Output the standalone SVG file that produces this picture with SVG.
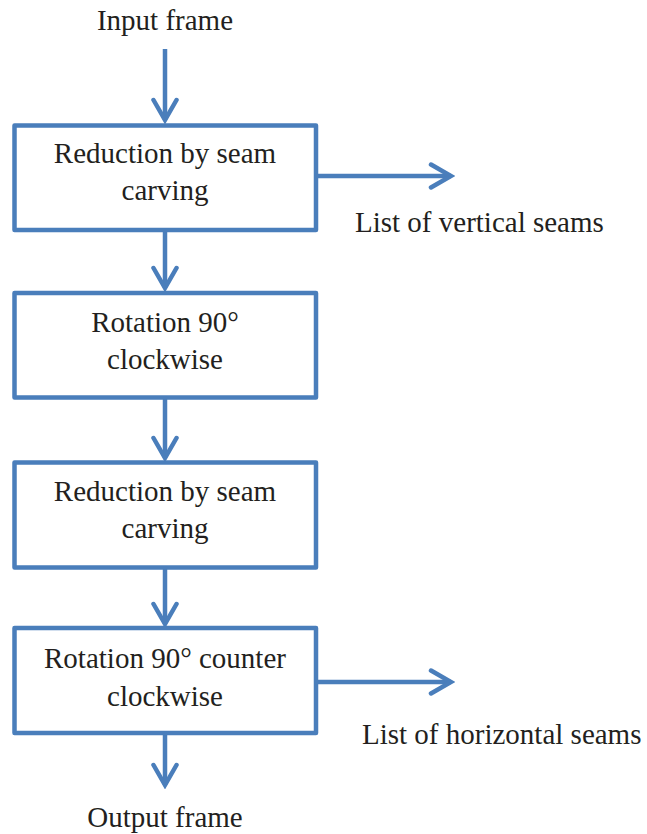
<svg xmlns="http://www.w3.org/2000/svg" width="647" height="834" viewBox="0 0 647 834">
  <style>
    .box { fill: #ffffff; stroke: #4A7EBB; stroke-width: 4.5; stroke-linejoin: round; }
    .edge { fill: none; stroke: #4A7EBB; stroke-width: 4.5; }
    .head { fill: none; stroke: #4A7EBB; stroke-width: 4.5; stroke-linecap: round; stroke-linejoin: miter; }
    text { font-family: "Liberation Serif", "Times New Roman", "DejaVu Serif", serif; font-size: 29px; fill: #231F20; }
    .c { text-anchor: middle; }
  </style>
  <defs>
    <!-- open chevron arrowhead shared by all connectors -->
    <marker id="chev" markerUnits="userSpaceOnUse" viewBox="-24 -14 28 28" refX="0" refY="0" markerWidth="28" markerHeight="28" orient="auto">
      <path class="head" d="M-20,-11.5 L0,0 L-20,11.5"/>
    </marker>
  </defs>

  <text class="c" x="165" y="30">Input frame</text>

  <g id="connectors">
    <line class="edge" x1="165" y1="49" x2="165" y2="120" marker-end="url(#chev)"/>
    <line class="edge" x1="165" y1="230" x2="165" y2="288" marker-end="url(#chev)"/>
    <line class="edge" x1="165" y1="397" x2="165" y2="458" marker-end="url(#chev)"/>
    <line class="edge" x1="165" y1="568" x2="165" y2="624" marker-end="url(#chev)"/>
    <line class="edge" x1="165" y1="733" x2="165" y2="785" marker-end="url(#chev)"/>
    <line class="edge" x1="316" y1="176" x2="451" y2="176" marker-end="url(#chev)"/>
    <line class="edge" x1="316" y1="682" x2="451" y2="682" marker-end="url(#chev)"/>
  </g>

  <g id="reduce1">
    <rect class="box" x="14.5" y="125.5" width="301.5" height="104.5"/>
    <text class="c" x="165" y="163">Reduction by seam</text>
    <text class="c" x="165" y="200">carving</text>
  </g>

  <g id="rotate-cw">
    <rect class="box" x="14.5" y="293" width="301.5" height="104.5"/>
    <text class="c" x="165" y="332">Rotation 90°</text>
    <text class="c" x="165" y="369">clockwise</text>
  </g>

  <g id="reduce2">
    <rect class="box" x="14.5" y="462.5" width="301.5" height="105"/>
    <text class="c" x="165" y="501">Reduction by seam</text>
    <text class="c" x="165" y="538">carving</text>
  </g>

  <g id="rotate-ccw">
    <rect class="box" x="14.5" y="628" width="301.5" height="105"/>
    <text class="c" x="165" y="668">Rotation 90° counter</text>
    <text class="c" x="165" y="706">clockwise</text>
  </g>

  <g id="labels">
    <text x="355" y="232">List of vertical seams</text>
    <text x="362" y="744">List of horizontal seams</text>
    <text class="c" x="165" y="827">Output frame</text>
  </g>
</svg>
